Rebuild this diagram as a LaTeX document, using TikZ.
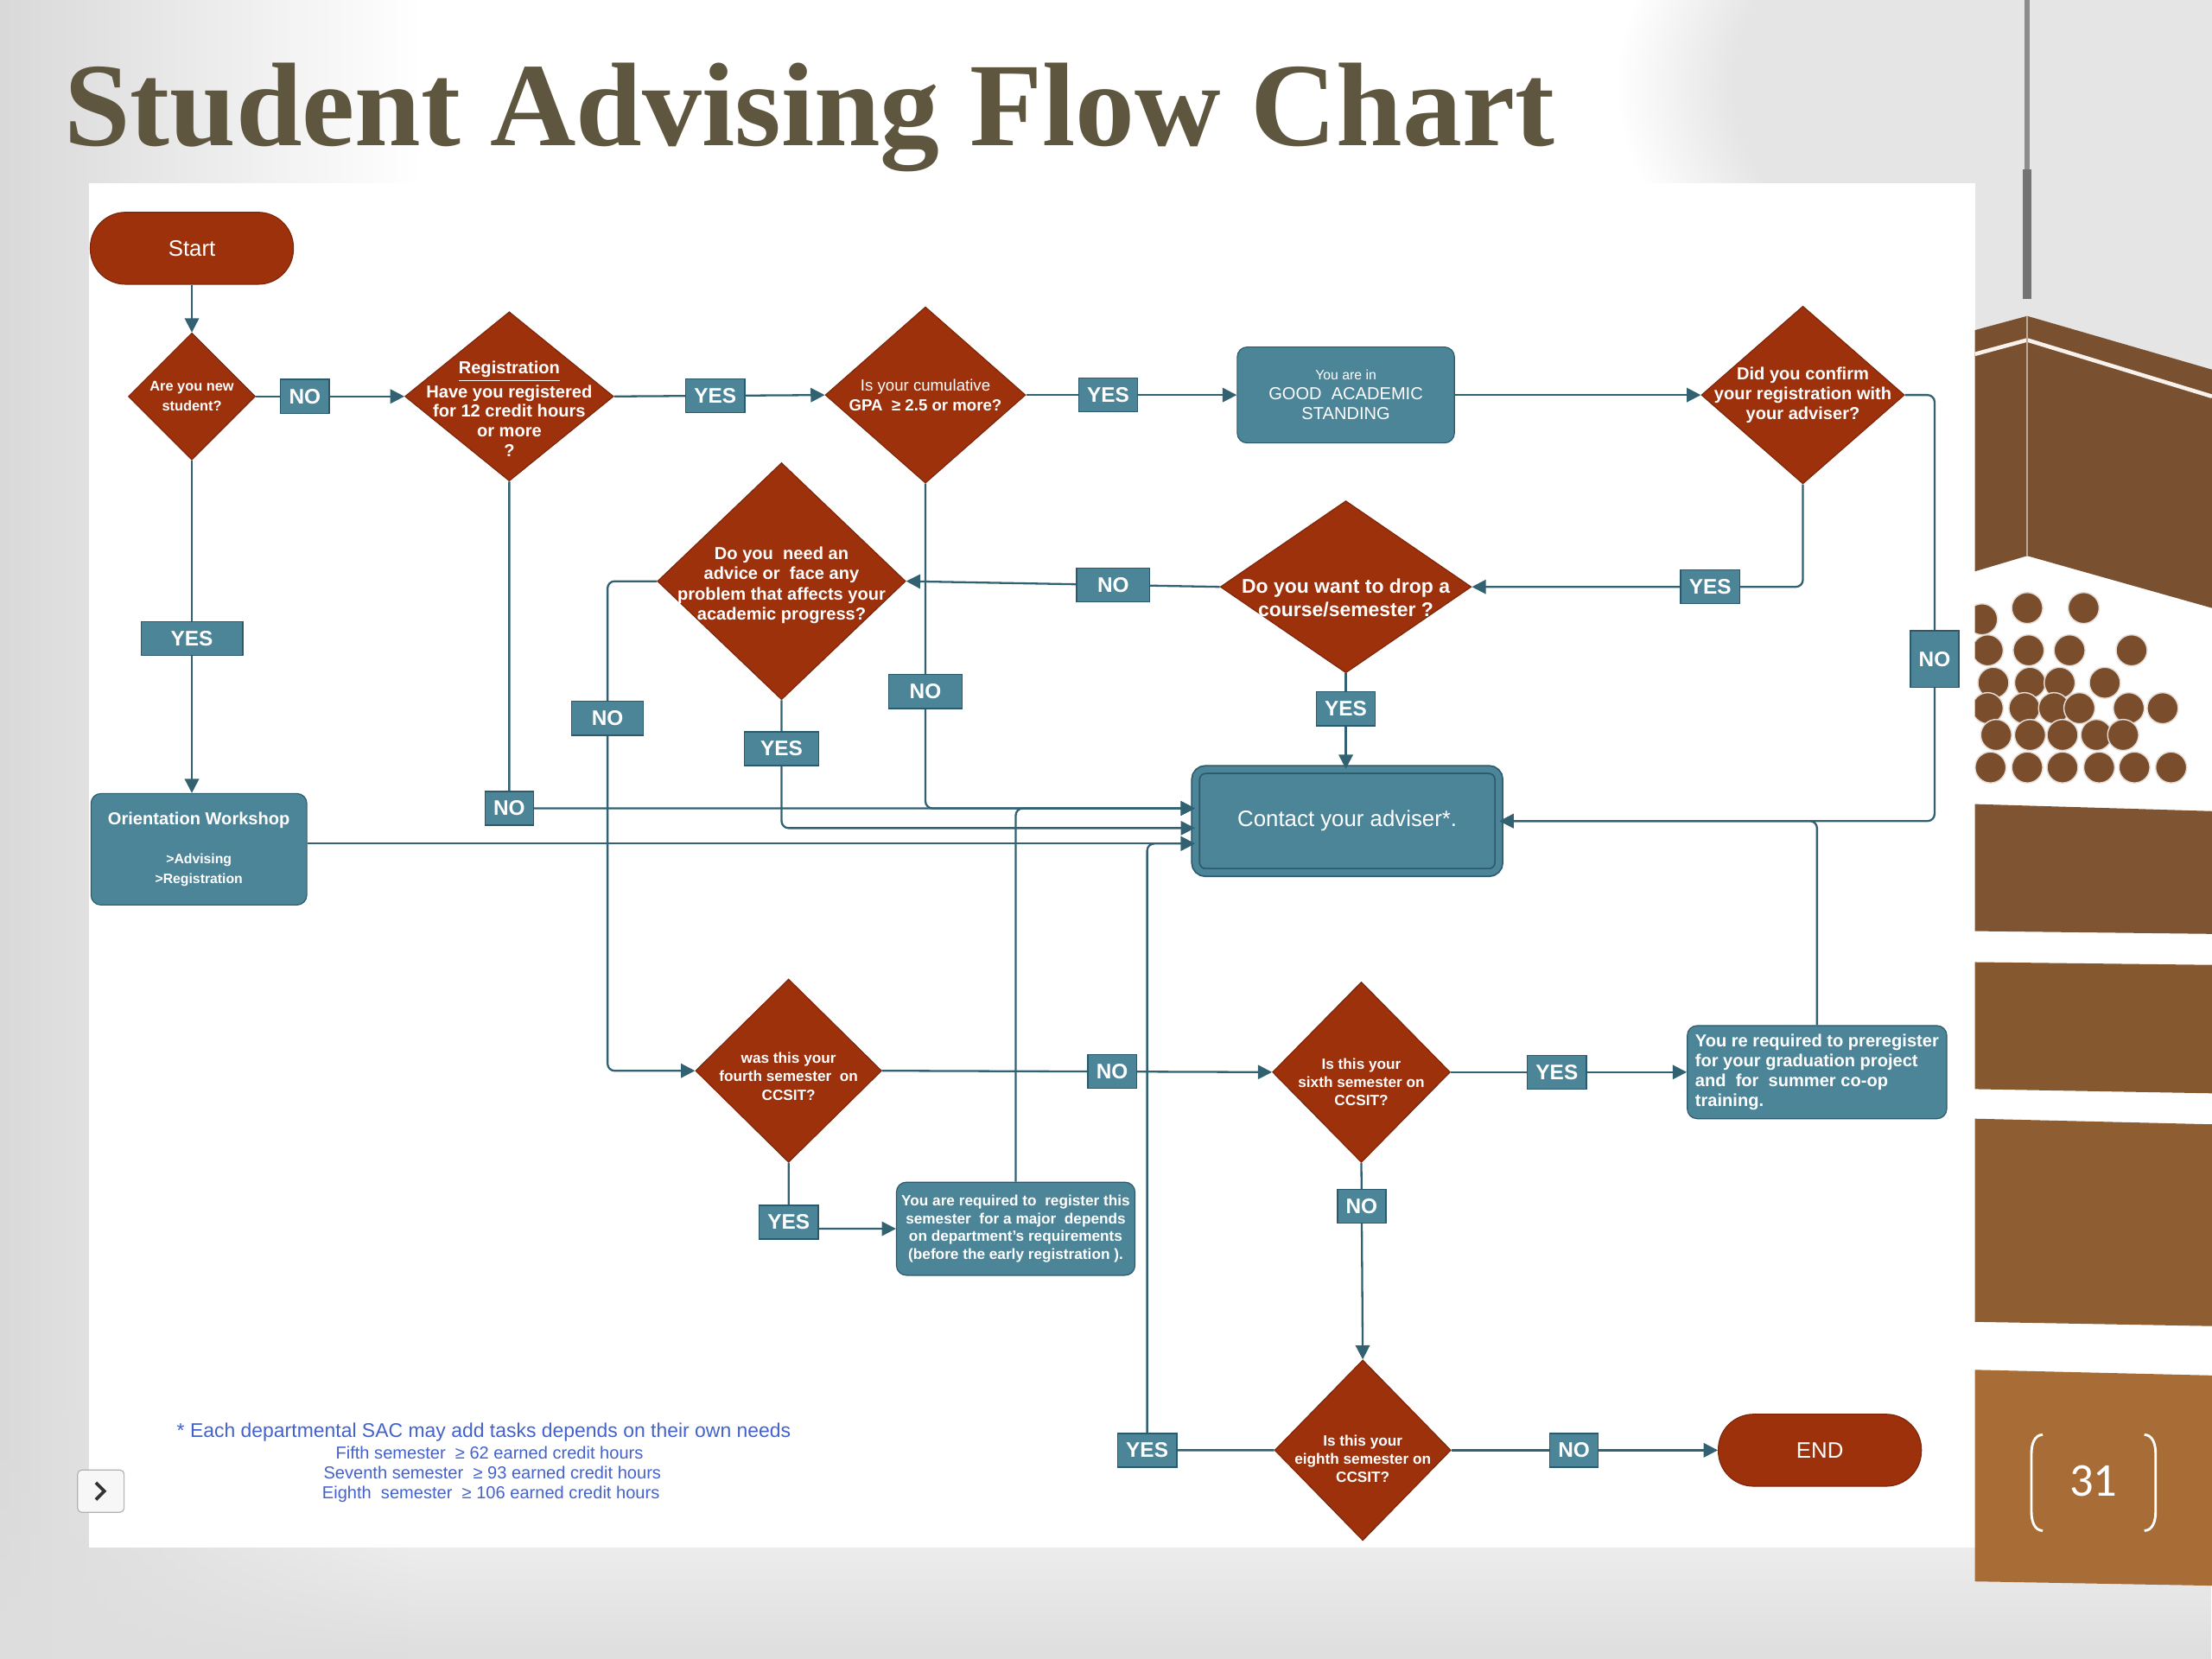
\documentclass[tikz,border=0pt]{standalone}
\usepackage{fontspec}
\setmainfont{Liberation Sans}
\newfontfamily\titlefont{Liberation Serif}
\newfontfamily\pagefont{Carlito}
\usetikzlibrary{arrows.meta,shapes.geometric,fadings}
\definecolor{rust}{RGB}{156,49,12}
\definecolor{rustdark}{RGB}{125,38,10}
\definecolor{tealfill}{RGB}{76,132,152}
\definecolor{tealdark}{RGB}{42,90,108}
\definecolor{flowline}{RGB}{50,98,114}
\definecolor{titlecol}{RGB}{94,86,62}
\definecolor{footblue}{RGB}{68,98,204}
\definecolor{bandA}{RGB}{121,80,48}
\definecolor{bandB}{RGB}{126,84,50}
\definecolor{bandC}{RGB}{133,88,48}
\definecolor{bandD}{RGB}{142,93,49}
\definecolor{bandE}{RGB}{168,108,54}
\definecolor{bead}{RGB}{122,78,44}
\tikzfading[name=fadeUp, top color=transparent!100, bottom color=transparent!0]

\begin{document}
\begin{tikzpicture}[x=0.02cm,y=-0.02cm,
	mydiamond/.style 2 args={
		diamond,
		draw=rustdark,
		fill=rust,
		minimum width=#1,
		minimum height=#2,
		inner sep=0pt},
	dtext/.style={
		text=white,
		align=center,
		inner sep=0pt,
		font=\bfseries\fontsize{7}{8}\selectfont},
	mybox/.style={
		rectangle,
		rounded corners=0.14cm,
		draw=tealdark,
		fill=tealfill,
		text=white,
		align=center,
		inner sep=2pt},
	myterm/.style={
		rectangle,
		rounded corners=0.5cm,
		draw=rustdark,
		fill=rust,
		text=white,
		minimum width=2.88cm,
		minimum height=1.02cm,
		font=\fontsize{9}{10}\selectfont},
	mylabel/.style={
		rectangle,
		sharp corners,
		line width=0.5pt,
		draw=tealdark,
		fill=tealfill,
		text=white,
		inner xsep=0.12cm,
		inner ysep=0pt,
		minimum height=0.48cm,
		font=\bfseries\fontsize{8.5}{9}\selectfont},
	foot/.style={text=footblue, inner sep=0pt, font=\fontsize{7}{8}\selectfont},
	myarrow/.style={
		draw=flowline,
		line width=0.8pt,
		rounded corners=0.1cm,
		-{Triangle[length=0.2cm,width=0.2cm]}}
	]
	\useasboundingbox (0,0) rectangle (1568,1176);
	
	% slide background
	\fill[white] (0,0) rectangle (1568,1176);
	\shade[left color=black!15, right color=white] (0,0) rectangle (300,1176);
	\fill[black!10, path fading=circle with fuzzy edge 20 percent] (1568,60) ellipse [x radius=420, y radius=240];
	\fill[black!13, path fading=fadeUp] (0,1000) rectangle (1568,1176);
	\fill[white] (63,130) rectangle (1400,1097);
	
	% right hand decoration
	\begin{scope}
		\clip (1400,0) rectangle (1568,1176);
		\draw[black!45, line width=2pt] (1437,0) -- (1437,212);
		\draw[black!55, line width=3.5pt] (1437,120) -- (1437,212);
		\fill[bandA] (1400,234) -- (1437,224) -- (1568,262) -- (1568,431) -- (1437,394) -- (1400,405) -- cycle;
		\draw[white!90!brown, line width=1.6pt] (1400,251) -- (1437,241) -- (1568,281);
		\draw[bandA!50!white, line width=0.8pt] (1437,224) -- (1437,394);
		\foreach \cx/\cy in {1437/431,1477/431,1405/439,
			1409/461,1438/461,1467/461,1511/461,
			1413/484,1439/484,1460/484,1492/484,
			1409/502,1435/502,1456/502,1474/502,1509/502,1533/502,
			1415/521,1439/521,1462/521,1486/521,1505/521,
			1411/544,1437/544,1462/544,1488/544,1513/544,1539/544}
		\filldraw[fill=bead, draw=white!80!bead, line width=0.5pt] (\cx,\cy) circle[radius=11];
		\fill[bandB] (1400,570) -- (1568,575) -- (1568,662) -- (1400,660) -- cycle;
		\fill[bandC] (1400,682) -- (1568,684) -- (1568,775) -- (1400,772) -- cycle;
		\fill[bandD] (1400,793) -- (1568,797) -- (1568,940) -- (1400,937) -- cycle;
		\fill[bandE] (1400,971) -- (1568,975) -- (1568,1124) -- (1400,1121) -- cycle;
		\draw[white, line width=1pt] (1448,1017) to[out=180,in=90] (1440,1030) -- (1440,1072) to[out=-90,in=180] (1448,1085);
		\draw[white, line width=1pt] (1520,1017) to[out=0,in=90] (1528,1030) -- (1528,1072) to[out=-90,in=0] (1520,1085);
	\end{scope}
	\node[text=white, inner sep=0pt, font=\pagefont\fontsize{19}{20}\selectfont] (page) at (1484,1050) {31};
	
	% slide control
	\draw[black!30, fill=black!3, rounded corners=0.06cm] (55,1042) rectangle (88,1072);
	\draw[black!80, line width=1.3pt] (68,1051) -- (74,1057) -- (68,1063);
	
	\node[anchor=base west, inner sep=0pt, text=titlecol, font=\titlefont\bfseries\fontsize{48}{50}\selectfont] (title) at (45,103) {Student Advising Flow Chart};
	
	% shapes
	\node[myterm] (tStart) at (136,176) {Start};
	\node[mydiamond={1.8cm}{1.8cm}, label={[dtext,font=\bfseries\fontsize{5.7}{8}\selectfont]center:Are you new\\student?}] (dNew) at (136,281) {};
	\node[mydiamond={2.96cm}{2.4cm}, label={[dtext,yshift=-0.18cm]center:\underline{Registration}\\Have you registered\\for 12 credit hours\\or more\\?}] (dReg) at (361,281) {};
	\node[mydiamond={2.84cm}{2.5cm}, label={[dtext,font=\bfseries\fontsize{6.5}{8}\selectfont]center:{\mdseries Is your cumulative}\\GPA \ ≥ 2.5 or more?}] (dGpa) at (656,280) {};
	\node[mybox, minimum width=3.08cm, minimum height=1.36cm, font=\fontsize{7}{8}\selectfont] (bGood) at (954,280) {{\fontsize{5.5}{8}\selectfont You are in}\\GOOD \ ACADEMIC\\STANDING};
	\node[mydiamond={2.88cm}{2.52cm}, label={[dtext]center:Did you confirm\\your registration with\\your adviser?}] (dConfirm) at (1278,280) {};
	\node[mydiamond={3.56cm}{2.44cm}, label={[dtext,yshift=-0.16cm,font=\bfseries\fontsize{8}{9.5}\selectfont]center:Do you want to drop a\\course/semester ?}] (dDrop) at (954,416) {};
	\node[mydiamond={3.52cm}{3.36cm}, label={[dtext,yshift=-0.06cm,font=\bfseries\fontsize{7}{8.2}\selectfont]center:Do you \ need an\\advice or \ face any\\problem that affects your\\academic progress?}] (dAdvice) at (554,412) {};
	\node[mybox, minimum width=4.3cm, minimum height=1.46cm, line width=0.6pt, double=tealfill, double distance=2.5pt, font=\fontsize{9}{10}\selectfont] (bContact) at (955,582) {Contact your adviser*.};
	\node[mybox, minimum width=3.06cm, minimum height=1.58cm, font=\bfseries\fontsize{7}{8}\selectfont] (bOrient) at (141,602) {Orientation Workshop\\[8pt]\fontsize{5.5}{7}\selectfont >Advising\\\fontsize{5.5}{7}\selectfont >Registration};
	\node[mydiamond={2.64cm}{2.6cm}, label={[dtext,yshift=-0.08cm,font=\bfseries\fontsize{6}{7.4}\selectfont]center:was this your\\fourth semester \ on\\CCSIT?}] (dFourth) at (559,759) {};
	\node[mybox, minimum width=3.36cm, minimum height=1.32cm, font=\bfseries\fontsize{6}{7.2}\selectfont] (bMajor) at (720,871) {You are required to \ register this\\semester \ for a major \ depends\\on department's requirements\\(before the early registration ).};
	\node[mydiamond={2.52cm}{2.56cm}, label={[dtext,yshift=-0.14cm,font=\bfseries\fontsize{6}{7.4}\selectfont]center:Is this your\\sixth semester on\\CCSIT?}] (dSixth) at (965,760) {};
	\node[mybox, minimum width=3.68cm, minimum height=1.32cm, align=left, inner xsep=0.06cm, font=\bfseries\fontsize{7}{8.1}\selectfont] (bGrad) at (1288,760) {You re required to preregister\\ for your graduation project\\and \ for \ summer co-op\\training.};
	\node[mydiamond={2.5cm}{2.56cm}, label={[dtext,yshift=-0.12cm,font=\bfseries\fontsize{6}{7.4}\selectfont]center:Is this your\\eighth semester on\\CCSIT?}] (dEighth) at (966,1028) {};
	\node[myterm] (tEnd) at (1290,1028) {END};
	
	% entry points on the left of the contact box
	\coordinate (inA) at ([yshift=0.18cm]bContact.west);
	\coordinate (inB) at ([yshift=-0.1cm]bContact.west);
	\coordinate (inC) at ([yshift=-0.32cm]bContact.west);
	
	% connectors
	\draw[myarrow] (tStart.south) -- (dNew.north);
	\draw[myarrow] (dNew.east) -- node[mylabel,pos=0.33]{NO} (dReg.west);
	\draw[myarrow] (dReg.east) -- node[mylabel,pos=0.48]{YES} (dGpa.west);
	\draw[myarrow] (dGpa.east) -- node[mylabel,pos=0.39]{YES} (bGood.west);
	\draw[myarrow] (bGood.east) -- (dConfirm.west);
	\draw[myarrow] (dConfirm.east) -- ++(21,0) |- node[mylabel,pos=0.31,minimum height=0.8cm]{NO} (bContact.east);
	\draw[myarrow] (dConfirm.south) |- node[mylabel,pos=0.64]{YES} (dDrop.east);
	\draw[myarrow] (dDrop.west) -- node[mylabel,pos=0.34,minimum width=1.04cm]{NO} (dAdvice.east);
	\draw[myarrow] (dDrop.south) -- node[mylabel,pos=0.37]{YES} (dDrop.south |- bContact.north);
	\draw[myarrow] (dAdvice.west) -- ++(-35,0) |- node[mylabel,pos=0.14,minimum width=1.02cm]{NO} (dFourth.west);
	\draw[myarrow] (dAdvice.south) |- node[mylabel,pos=0.19,minimum width=1.06cm]{YES} (inB);
	\draw[myarrow] (dGpa.south) |- node[mylabel,pos=0.32,minimum width=1.04cm]{NO} (inA);
	\draw[myarrow] (dReg.south) |- node[mylabel,pos=0.5]{NO} (inA);
	\draw[myarrow] (bMajor.north) |- (inA);
	\draw[myarrow] (dNew.south) -- node[mylabel,pos=0.536,minimum width=1.44cm]{YES} (dNew.south |- bOrient.north);
	\draw[myarrow] (bOrient.east |- inC) -- (inC);
	\draw[myarrow] (dEighth.west) -- node[mylabel,pos=1]{YES} ++(-90,0) |- (inC);
	\draw[myarrow] (dFourth.east) -- node[mylabel,pos=0.59]{NO} (dSixth.west);
	\draw[myarrow] (dFourth.south) |- node[mylabel,pos=0.45]{YES} (bMajor.west);
	\draw[myarrow] (dSixth.east) -- node[mylabel,pos=0.45]{YES} (bGrad.west);
	\draw[myarrow] (bGrad.north) |- (bContact.east);
	\draw[myarrow] (dSixth.south) -- node[mylabel,pos=0.22]{NO} (dEighth.north);
	\draw[myarrow] (dEighth.east) -- node[mylabel,pos=0.46]{NO} (tEnd.west);
	
	% footnote
	\node[foot, font=\fontsize{8}{9}\selectfont] (fnA) at (343,1015) {* Each departmental SAC may add tasks depends on their own needs};
	\node[foot] (fnB) at (347,1030) {Fifth semester \ ≥ 62 earned credit hours};
	\node[foot] (fnC) at (349,1044) {Seventh semester \ ≥ 93 earned credit hours};
	\node[foot] (fnD) at (348,1059) {Eighth \ semester \ ≥ 106 earned credit hours};
	
\end{tikzpicture}
\end{document}
